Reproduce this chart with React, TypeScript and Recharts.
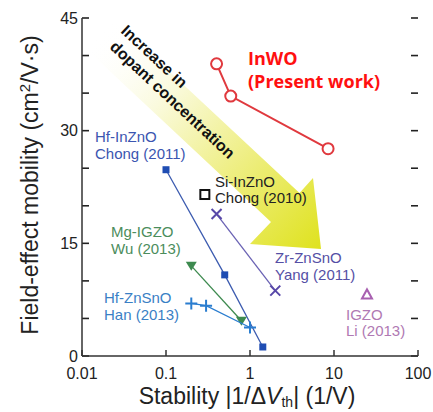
import React from 'react';
import { ScatterChart, Scatter, XAxis, YAxis, Customized } from 'recharts';

// stability |1/dVth| (1/V) vs field-effect mobility (cm2/Vs)
const inWO = [
  { x: 0.4, y: 38.9 },
  { x: 0.59, y: 34.6 },
  { x: 8.5, y: 27.6 }
];
const hfInZnO = [
  { x: 0.1, y: 24.8 },
  { x: 0.5, y: 10.8 },
  { x: 1.42, y: 1.2 }
];
const siInZnO = [{ x: 0.29, y: 21.5 }];
const zrZnSnO = [
  { x: 0.4, y: 18.9 },
  { x: 2.0, y: 8.7 }
];
const mgIGZO = [
  { x: 0.2, y: 12.0 },
  { x: 0.79, y: 4.7 }
];
const hfZnSnO = [
  { x: 0.2, y: 7.0 },
  { x: 0.3, y: 6.7 },
  { x: 1.0, y: 3.8 }
];
const igzo = [{ x: 24.7, y: 8.2 }];

const xTicks = [0.01, 0.1, 1, 10, 100];
const xMinorTicks = [0.01, 0.1, 1, 10].flatMap((d) => [2, 3, 4, 5, 6, 7, 8, 9].map((m) => d * m));
const yTicks = [0, 5, 10, 15, 20, 25, 30, 35, 40, 45];
const yLabelTicks = [0, 15, 30, 45];

const RED = '#e0393e';
const BLUE = '#1f4db3';
const PURPLE = '#5848a8';
const GREEN = '#3d8a4f';
const LBLUE = '#2a7dcf';
const PINK = '#a860b0';
const AXIS = '#333';
const FONT = '"Liberation Sans", Arial, sans-serif';

// plot frame edges in px (chart margin + axis sizes)
const PLOT_LEFT = 82;
const PLOT_RIGHT = 418;
const PLOT_TOP = 18;
const PLOT_BOTTOM = 356;
const Y_MAX = 45;

const OpenCircle = (p: any) => (
  <circle cx={p.cx} cy={p.cy} r={5.5} fill="#fff" stroke={RED} strokeWidth={2} />
);
const FilledSquare = (p: any) => (
  <rect x={p.cx - 3.5} y={p.cy - 3.5} width={7} height={7} fill={BLUE} />
);
const OpenSquare = (p: any) => (
  <rect x={p.cx - 4.5} y={p.cy - 4.5} width={9} height={9} fill="#fff" stroke="#111" strokeWidth={2} />
);
const Cross = (p: any) => (
  <path
    d={`M${p.cx - 5},${p.cy - 5}L${p.cx + 5},${p.cy + 5}M${p.cx - 5},${p.cy + 5}L${p.cx + 5},${p.cy - 5}`}
    stroke={PURPLE}
    strokeWidth={2}
  />
);
const DownTriangle = (p: any) => (
  <path d={`M${p.cx - 5.5},${p.cy - 4}L${p.cx + 5.5},${p.cy - 4}L${p.cx},${p.cy + 5}Z`} fill={GREEN} />
);
const Plus = (p: any) => (
  <path
    d={`M${p.cx - 6},${p.cy}L${p.cx + 6},${p.cy}M${p.cx},${p.cy - 6}L${p.cx},${p.cy + 6}`}
    stroke={LBLUE}
    strokeWidth={2}
  />
);
const OpenTriangle = (p: any) => (
  <path
    d={`M${p.cx - 5},${p.cy + 4}L${p.cx + 5},${p.cy + 4}L${p.cx},${p.cy - 5}Z`}
    fill="none"
    stroke={PINK}
    strokeWidth={2}
  />
);

// label for the left axis (only every 15)
const LeftTick = (p: any) => {
  const v = p.payload.value;
  if (!yLabelTicks.includes(v)) return <g />;
  return (
    <text x={PLOT_LEFT - 4} y={p.y} dy={5.5} textAnchor="end" fill="#222" fontSize={16} fontFamily={FONT}>
      {v}
    </text>
  );
};

// big yellow "increase in dopant concentration" arrow
const Arrow = () => (
  <g>
    <defs>
      <linearGradient id="arrowFill" gradientUnits="userSpaceOnUse" x1="98" y1="33" x2="321" y2="249">
        <stop offset="0" stopColor="#ffffff" stopOpacity={0} />
        <stop offset="0.3" stopColor="#fafadc" />
        <stop offset="0.6" stopColor="#efef88" />
        <stop offset="1" stopColor="#dfe21e" />
      </linearGradient>
    </defs>
    <polygon
      points="112,18 299.5,193 313,178 321,249 250,244 271,222 84,47"
      fill="url(#arrowFill)"
    />
    <g fontFamily={FONT} fontWeight="bold" fontSize={16} fill="#111">
      <text transform="translate(120,32) rotate(43)">Increase in</text>
      <text transform="translate(109,48) rotate(43)">dopant concentration</text>
    </g>
  </g>
);

const Labels = () => (
  <g fontFamily={FONT} fontSize={15}>
    {/* inward y ticks on both frame sides */}
    {yTicks.map((v) => {
      const y = PLOT_BOTTOM - (v / Y_MAX) * (PLOT_BOTTOM - PLOT_TOP);
      return (
        <g key={v} stroke="#222" strokeWidth={1.6}>
          <line x1={PLOT_LEFT} x2={PLOT_LEFT + 7} y1={y} y2={y} />
          <line x1={PLOT_RIGHT} x2={PLOT_RIGHT - 7} y1={y} y2={y} />
        </g>
      );
    })}
    <text x={95} y={142} fill="#3b55b0">Hf-InZnO</text>
    <text x={95} y={159} fill="#3b55b0">Chong (2011)</text>
    <text x={215} y={187} fill="#222">Si-InZnO</text>
    <text x={215} y={203} fill="#222">Chong (2010)</text>
    <text x={111} y={237} fill="#4b8d5c">Mg-IGZO</text>
    <text x={111} y={254} fill="#4b8d5c">Wu (2013)</text>
    <text x={104} y={303} fill="#3a7fc5">Hf-ZnSnO</text>
    <text x={104} y={320} fill="#3a7fc5">Han (2013)</text>
    <text x={275} y={263} fill="#554fa5">Zr-ZnSnO</text>
    <text x={275} y={280} fill="#554fa5">Yang (2011)</text>
    <text x={346} y={320} fill="#b079b3">IGZO</text>
    <text x={346} y={336} fill="#b079b3">Li (2013)</text>
    <g fontFamily='"Open Sans", sans-serif' fontWeight="bold" fontSize={18} fill="#ff1010">
      <text x={248} y={65}>InWO</text>
      <text x={248} y={88}>(Present work)</text>
    </g>
    <text x={247} y={404} textAnchor="middle" fontSize={23} fill="#222">
      Stability |1/Δ<tspan fontStyle="italic">V</tspan>
      <tspan fontSize={14} dy={3}>th</tspan>
      <tspan dy={-3}>| (1/V)</tspan>
    </text>
    <text transform="translate(38,185) rotate(-90)" textAnchor="middle" fontSize={23} fill="#222">
      Field-effect mobility (cm<tspan fontSize={15} dy={-8}>2</tspan>
      <tspan dy={8}>/V·s)</tspan>
    </text>
  </g>
);

const tickStyle = { fill: '#222', fontSize: 16, fontFamily: FONT };
const line = { stroke: AXIS, strokeWidth: 1.5 };

export default function App() {
  return (
    <div style={{ position: 'absolute', left: 0, top: 0, width: 433, height: 412, background: '#fff' }}>
      <ScatterChart width={433} height={412} margin={{ top: PLOT_TOP, right: 15, bottom: 0, left: 0 }}>
        <XAxis
          xAxisId="minor"
          type="number"
          dataKey="x"
          scale="log"
          domain={[0.01, 100]}
          allowDataOverflow
          ticks={xMinorTicks}
          interval={0}
          tick={false}
          tickSize={-3}
          tickLine={{ stroke: AXIS }}
          axisLine={false}
          height={0}
        />
        <XAxis
          xAxisId="main"
          type="number"
          dataKey="x"
          scale="log"
          domain={[0.01, 100]}
          allowDataOverflow
          ticks={xTicks}
          interval={0}
          tickFormatter={(v: number) => String(v)}
          tick={tickStyle}
          tickSize={-6}
          tickMargin={18}
          tickLine={line}
          axisLine={line}
          height={56}
        />
        <XAxis
          xAxisId="top"
          orientation="top"
          type="number"
          dataKey="x"
          scale="log"
          domain={[0.01, 100]}
          allowDataOverflow
          ticks={xTicks}
          interval={0}
          tick={false}
          tickSize={-6}
          tickLine={line}
          axisLine={line}
          height={0}
        />
        <XAxis
          xAxisId="topMinor"
          orientation="top"
          type="number"
          dataKey="x"
          scale="log"
          domain={[0.01, 100]}
          allowDataOverflow
          ticks={xMinorTicks}
          interval={0}
          tick={false}
          tickSize={-3}
          tickLine={{ stroke: AXIS }}
          axisLine={false}
          height={0}
        />
        <YAxis
          yAxisId="left"
          type="number"
          dataKey="y"
          domain={[0, Y_MAX]}
          ticks={yTicks}
          interval={0}
          tick={LeftTick}
          tickLine={false}
          axisLine={line}
          width={82}
        />
        <YAxis
          yAxisId="right"
          orientation="right"
          type="number"
          dataKey="y"
          domain={[0, Y_MAX]}
          ticks={yTicks}
          tick={false}
          tickLine={false}
          axisLine={line}
          width={0}
        />
        <Customized component={<Arrow />} />
        <Scatter xAxisId="main" yAxisId="left" data={hfInZnO} line={{ stroke: '#3d5cb0', strokeWidth: 1.3 }} shape={FilledSquare} isAnimationActive={false} />
        <Scatter xAxisId="main" yAxisId="left" data={mgIGZO} line={{ stroke: GREEN, strokeWidth: 1.3 }} shape={DownTriangle} isAnimationActive={false} />
        <Scatter xAxisId="main" yAxisId="left" data={hfZnSnO} line={{ stroke: LBLUE, strokeWidth: 1.3 }} shape={Plus} isAnimationActive={false} />
        <Scatter xAxisId="main" yAxisId="left" data={zrZnSnO} line={{ stroke: '#6a62b4', strokeWidth: 1.3 }} shape={Cross} isAnimationActive={false} />
        <Scatter xAxisId="main" yAxisId="left" data={siInZnO} shape={OpenSquare} isAnimationActive={false} />
        <Scatter xAxisId="main" yAxisId="left" data={igzo} shape={OpenTriangle} isAnimationActive={false} />
        <Scatter xAxisId="main" yAxisId="left" data={inWO} line={{ stroke: RED, strokeWidth: 2 }} shape={OpenCircle} isAnimationActive={false} />
        <Customized component={<Labels />} />
      </ScatterChart>
    </div>
  );
}
